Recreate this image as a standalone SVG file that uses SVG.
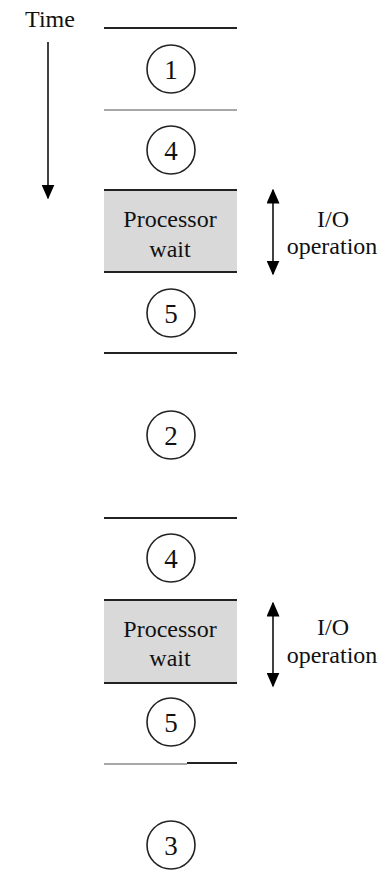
<svg xmlns="http://www.w3.org/2000/svg" width="387" height="870" viewBox="0 0 387 870">
  <defs>
    <marker id="ah" viewBox="0 0 10 10" refX="9" refY="5" markerWidth="15" markerHeight="13" orient="auto-start-reverse" markerUnits="userSpaceOnUse" preserveAspectRatio="none">
      <path d="M0,0 L10,5 L0,10 z" fill="#000"/>
    </marker>
    <style>
      text { font-family: "Liberation Serif", "DejaVu Serif", serif; fill: #111; }
      .lbl { font-size: 24px; text-anchor: middle; }
      .num { font-size: 27px; text-anchor: middle; }
      .sep { stroke: #222; stroke-width: 2; }
      .sep-light { stroke: #8a8a8a; stroke-width: 1.5; }
      .step { fill: #fff; stroke: #222; stroke-width: 1.6; }
      .wait { fill: #d9d9d9; stroke: none; }
      .arrow { stroke: #111; stroke-width: 1.6; fill: none; }
    </style>
  </defs>
  <rect width="387" height="870" fill="#fff"/>

  <!-- time axis -->
  <g id="time-axis">
    <text x="50" y="27" class="lbl" font-family="Liberation Serif, serif">Time</text>
    <line x1="48" y1="42" x2="48" y2="198" class="arrow" marker-end="url(#ah)"/>
  </g>

  <!-- separators and connectors -->
  <g id="connectors">
    <line x1="104" y1="28" x2="237" y2="28" class="sep"/>
    <line x1="104" y1="110" x2="237" y2="110" class="sep-light"/>
    <line x1="104" y1="190" x2="237" y2="190" class="sep"/>
    <line x1="104" y1="272" x2="237" y2="272" class="sep"/>
    <line x1="104" y1="353" x2="237" y2="353" class="sep"/>
    <line x1="104" y1="518" x2="237" y2="518" class="sep"/>
    <line x1="104" y1="600" x2="237" y2="600" class="sep"/>
    <line x1="104" y1="683" x2="237" y2="683" class="sep"/>
    <line x1="104" y1="764" x2="187" y2="764" class="sep-light"/>
    <line x1="187" y1="763" x2="237" y2="763" class="sep"/>
    <line x1="273" y1="190" x2="273" y2="274" class="arrow" marker-start="url(#ah)" marker-end="url(#ah)"/>
    <line x1="273" y1="603" x2="273" y2="686" class="arrow" marker-start="url(#ah)" marker-end="url(#ah)"/>
  </g>

  <g id="step-1">
    <circle cx="171" cy="69" r="24" class="step"/>
    <text x="171" y="79" class="num" font-family="Liberation Serif, serif">1</text>
  </g>
  <g id="step-4a">
    <circle cx="171" cy="150" r="24" class="step"/>
    <text x="171" y="160" class="num" font-family="Liberation Serif, serif">4</text>
  </g>
  <g id="wait-1">
    <rect x="104" y="191" width="133" height="80" class="wait"/>
    <text x="170" y="227" class="lbl" font-family="Liberation Serif, serif">Processor</text>
    <text x="170" y="257" class="lbl" font-family="Liberation Serif, serif">wait</text>
  </g>
  <g id="io-1">
    <text x="333" y="227" class="lbl" font-family="Liberation Serif, serif">I/O</text>
    <text x="332" y="254" class="lbl" font-family="Liberation Serif, serif">operation</text>
  </g>
  <g id="step-5a">
    <circle cx="171" cy="313" r="24" class="step"/>
    <text x="171" y="323" class="num" font-family="Liberation Serif, serif">5</text>
  </g>
  <g id="step-2">
    <circle cx="171" cy="435" r="24" class="step"/>
    <text x="171" y="445" class="num" font-family="Liberation Serif, serif">2</text>
  </g>
  <g id="step-4b">
    <circle cx="171" cy="558" r="24" class="step"/>
    <text x="171" y="568" class="num" font-family="Liberation Serif, serif">4</text>
  </g>
  <g id="wait-2">
    <rect x="104" y="601" width="133" height="81" class="wait"/>
    <text x="170" y="637" class="lbl" font-family="Liberation Serif, serif">Processor</text>
    <text x="170" y="666" class="lbl" font-family="Liberation Serif, serif">wait</text>
  </g>
  <g id="io-2">
    <text x="333" y="635" class="lbl" font-family="Liberation Serif, serif">I/O</text>
    <text x="332" y="663" class="lbl" font-family="Liberation Serif, serif">operation</text>
  </g>
  <g id="step-5b">
    <circle cx="171" cy="722" r="24" class="step"/>
    <text x="171" y="732" class="num" font-family="Liberation Serif, serif">5</text>
  </g>
  <g id="step-3">
    <circle cx="171" cy="845" r="24" class="step"/>
    <text x="171" y="855" class="num" font-family="Liberation Serif, serif">3</text>
  </g>
</svg>
